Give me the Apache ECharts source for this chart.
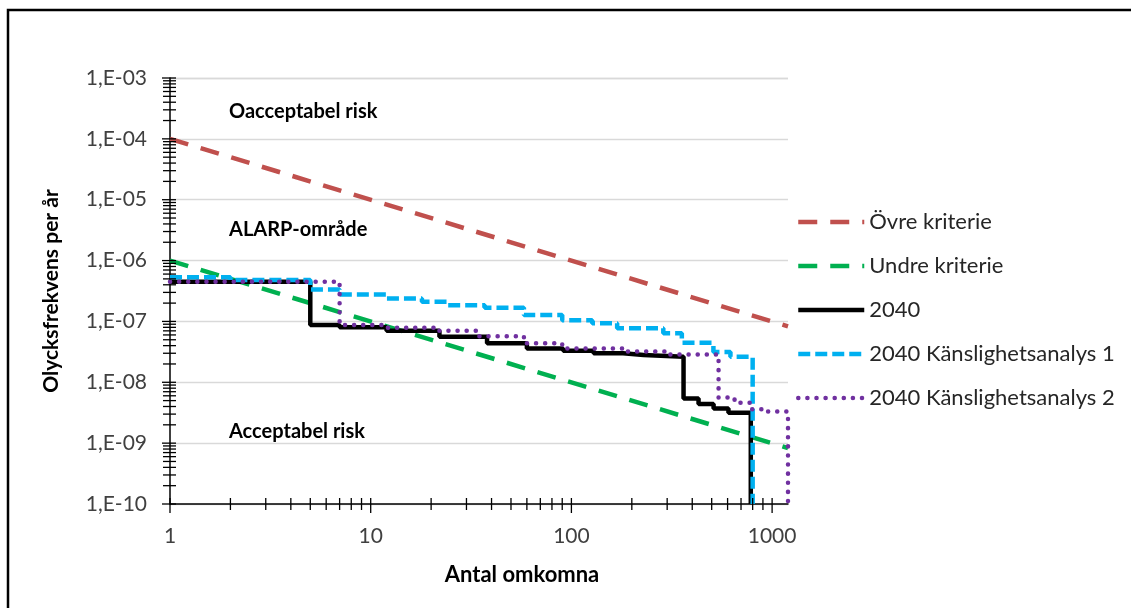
<!DOCTYPE html>
<html>
<head>
<meta charset="utf-8">
<script src="https://cdn.jsdelivr.net/npm/echarts@6/dist/echarts.min.js"></script>
<style>
  html, body { margin: 0; padding: 0; background: #fff; }
  #chart { width: 1131px; height: 608px; }
</style>
</head>
<body>
<div id="chart"></div>
<script>
// N = antal omkomna, F = olycksfrekvens per år
const critN = [1, 1200];
const upperF = [1e-4, 8.3e-8];
const lowerF = [1e-6, 8.3e-10];

const baseN = [1, 5, 7, 12, 22, 38, 60, 91, 129, 181, 229, 362, 430, 511, 606, 783];
const baseF = [4.47e-7, 8.7e-8, 8.0e-8, 7.0e-8, 5.6e-8, 4.36e-8, 3.6e-8, 3.3e-8, 3.0e-8, 2.8e-8, 2.63e-8, 5.4e-9, 4.4e-9, 3.7e-9, 3.16e-9, 1e-10];

const sens1N = [1, 2, 5, 7, 12, 18, 24, 37, 58, 90, 127, 169, 287, 355, 510, 620, 800];
const sens1F = [5.3e-7, 4.8e-7, 3.36e-7, 2.77e-7, 2.39e-7, 2.1e-7, 1.85e-7, 1.67e-7, 1.27e-7, 1.05e-7, 9.3e-8, 7.7e-8, 6.4e-8, 4.45e-8, 3.16e-8, 2.63e-8, 1e-10];

const sens2N = [1, 7, 12, 22, 34, 58, 90, 180, 300, 541, 650, 780, 930, 1200];
const sens2F = [4.5e-7, 8.7e-8, 7.9e-8, 7.0e-8, 5.7e-8, 4.36e-8, 3.6e-8, 3.2e-8, 2.85e-8, 5.6e-9, 4.6e-9, 3.6e-9, 3.3e-9, 1e-10];

const seriesNames = ['Övre kriterie', 'Undre kriterie', '2040', '2040 Känslighetsanalys 1', '2040 Känslighetsanalys 2'];

// axis ticks (decades and the 2..9 steps between them)
const xDecades = [1, 10, 100];
const xLast = 1000;
const yDecades = [1e-10, 1e-9, 1e-8, 1e-7, 1e-6, 1e-5, 1e-4];
const yLast = 1e-3;
const minorSteps = [2, 3, 4, 5, 6, 7, 8, 9];

const X_MIN = 1, X_MAX = 1200, Y_MIN = 1e-10, Y_MAX = 1e-3;
const FONT = 'Lato';

const zip = (a, b) => a.map((v, i) => [v, b[i]]);

const xTicks = [];
xDecades.forEach(d => {
  xTicks.push([d, Y_MIN, 1]);
  minorSteps.forEach(m => xTicks.push([d * m, Y_MIN, 0]));
});
xTicks.push([xLast, Y_MIN, 1]);

const yTicks = [];
yDecades.forEach(d => {
  yTicks.push([X_MIN, d, 1]);
  minorSteps.forEach(m => yTicks.push([X_MIN, d * m, 0]));
});
yTicks.push([X_MIN, yLast, 1]);

const chart = echarts.init(document.getElementById('chart'));

function tickItem(horizontal) {
  return function (params, api) {
    const p = api.coord([api.value(0), api.value(1)]);
    const major = api.value(2) === 1;
    const shape = horizontal
      ? { x1: p[0], y1: p[1] - 6, x2: p[0], y2: p[1] + (major ? 9 : 6) }
      : { x1: p[0] - (major ? 8 : 7), y1: p[1], x2: p[0] + 6, y2: p[1] };
    return { type: 'line', shape: shape, style: { stroke: '#000', lineWidth: 1.3 } };
  };
}

chart.setOption({
  animation: false,
  backgroundColor: '#fff',
  textStyle: { fontFamily: FONT },
  grid: { left: 170, top: 78, right: 343, bottom: 104 },
  legend: {
    data: seriesNames,
    orient: 'vertical',
    left: 796,
    top: 211,
    padding: 0,
    itemWidth: 66,
    itemHeight: 20,
    itemGap: 22,
    itemStyle: { opacity: 0 },
    lineStyle: { width: 4.5 },
    textStyle: { fontFamily: FONT, fontSize: 22, color: '#262626' }
  },
  xAxis: {
    type: 'log',
    logBase: 10,
    min: X_MIN,
    max: X_MAX,
    name: 'Antal omkomna',
    nameLocation: 'middle',
    nameGap: 60,
    nameTextStyle: { fontFamily: FONT, fontSize: 22, fontWeight: 'bold', color: '#000', padding: [0, 0, 0, 86] },
    axisLine: { lineStyle: { color: '#000', width: 1.5 } },
    axisTick: { show: false },
    splitLine: { show: false },
    axisLabel: {
      margin: 22,
      fontFamily: FONT,
      fontSize: 21,
      color: '#404040',
      formatter: function (v) {
        const e = Math.log10(v);
        return Math.abs(e - Math.round(e)) < 1e-6 ? String(Math.round(v)) : '';
      }
    }
  },
  yAxis: {
    type: 'log',
    logBase: 10,
    min: Y_MIN,
    max: Y_MAX,
    name: 'Olycksfrekvens per år',
    nameLocation: 'middle',
    nameGap: 108,
    nameTextStyle: { fontFamily: FONT, fontSize: 21, fontWeight: 'bold', color: '#000' },
    axisLine: { lineStyle: { color: '#000', width: 1.5 } },
    axisTick: { show: false },
    splitLine: { show: true, lineStyle: { color: '#d9d9d9', width: 1.3 } },
    axisLabel: {
      margin: 23,
      fontFamily: FONT,
      fontSize: 21,
      color: '#404040',
      formatter: function (v) {
        const e = Math.round(-Math.log10(v));
        return '1,E-' + (e < 10 ? '0' + e : e);
      }
    }
  },
  graphic: [
    {
      type: 'rect',
      shape: { x: 8, y: 10, width: 1200, height: 700 },
      style: { fill: 'none', stroke: '#000', lineWidth: 2.5 },
      silent: true
    },
    { type: 'text', left: 229, top: 102, style: { text: 'Oacceptabel risk', font: 'bold 20px Lato', fill: '#000' } },
    { type: 'text', left: 229, top: 220, style: { text: 'ALARP-område', font: 'bold 20px Lato', fill: '#000' } },
    { type: 'text', left: 229, top: 422, style: { text: 'Acceptabel risk', font: 'bold 20px Lato', fill: '#000' } }
  ],
  series: [
    {
      name: seriesNames[0],
      type: 'line',
      symbol: 'none',
      data: zip(critN, upperF),
      lineStyle: { color: '#c0504d', width: 4.5, type: [19, 13] },
      itemStyle: { color: '#c0504d' }
    },
    {
      name: seriesNames[1],
      type: 'line',
      symbol: 'none',
      data: zip(critN, lowerF),
      lineStyle: { color: '#00b050', width: 4.5, type: [19, 13] },
      itemStyle: { color: '#00b050' }
    },
    {
      name: seriesNames[2],
      type: 'line',
      symbol: 'none',
      step: 'end',
      data: zip(baseN, baseF),
      lineStyle: { color: '#000', width: 4.5 },
      itemStyle: { color: '#000' }
    },
    {
      name: seriesNames[3],
      type: 'line',
      symbol: 'none',
      step: 'end',
      data: zip(sens1N, sens1F),
      lineStyle: { color: '#00b0f0', width: 4.5, type: [12, 5] },
      itemStyle: { color: '#00b0f0' }
    },
    {
      name: seriesNames[4],
      type: 'line',
      symbol: 'none',
      step: 'end',
      data: zip(sens2N, sens2F),
      lineStyle: { color: '#7030a0', width: 4.5, type: [0.1, 9], cap: 'round' },
      itemStyle: { color: '#7030a0' }
    },
    {
      name: 'xTicks',
      type: 'custom',
      clip: false,
      silent: true,
      renderItem: tickItem(true),
      data: xTicks,
      z: 5
    },
    {
      name: 'yTicks',
      type: 'custom',
      clip: false,
      silent: true,
      renderItem: tickItem(false),
      data: yTicks,
      z: 5
    }
  ]
});
</script>
</body>
</html>
